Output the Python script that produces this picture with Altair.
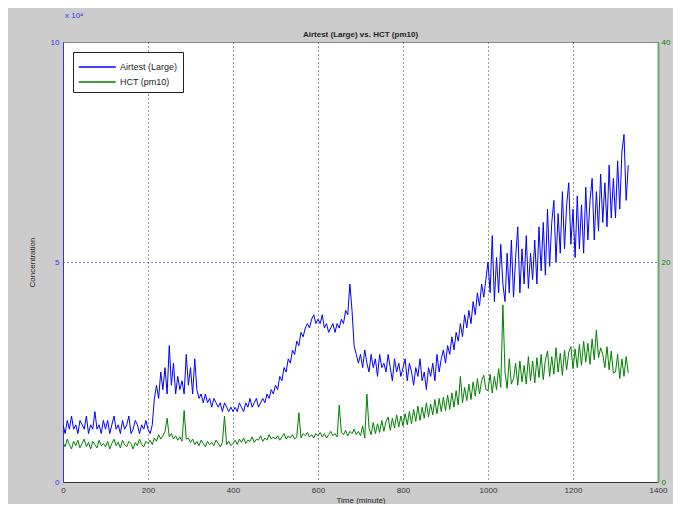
import altair as alt
import pandas as pd

# Sample times (minutes), every 5 minutes
TIME = list(range(0, 1331, 5))

# Airtest (Large) concentration, in units of 10^4
AIRTEST = [
    1.3,1.1,1.4,1.2,1.5,1.2,1.3,1.1,1.4,1.3,1.2,1.5,1.1,1.3,1.2,1.6,1.2,1.3,1.1,1.4,
    1.2,1.4,1.1,1.3,1.5,1.2,1.3,1.1,1.4,1.2,1.3,1.5,1.1,1.2,1.4,1.3,1.1,1.3,1.2,1.4,
    1.2,1.1,1.3,1.9,2.2,1.9,2.5,2.1,2.6,2.0,3.1,2.2,2.7,2.0,2.4,2.1,2.3,2.0,2.9,2.2,
    2.6,2.0,2.8,2.1,1.9,2.0,1.8,2.0,1.8,1.9,1.7,1.9,1.8,1.7,1.8,1.6,1.8,1.7,1.6,1.7,
    1.6,1.7,1.6,1.8,1.7,1.6,1.8,1.7,1.9,1.7,1.8,1.9,1.7,1.8,1.9,1.8,2.0,1.9,2.1,2.0,
    2.2,2.1,2.4,2.3,2.6,2.5,2.8,2.7,3.0,2.9,3.2,3.1,3.4,3.3,3.5,3.6,3.5,3.7,3.8,3.6,
    3.7,3.6,3.8,3.5,3.6,3.4,3.5,3.6,3.4,3.6,3.5,3.7,3.6,3.9,3.8,4.5,3.9,3.1,2.9,2.7,
    2.9,2.6,3.0,2.7,2.5,2.9,2.6,2.8,2.4,2.9,2.6,2.7,2.5,2.9,2.6,2.3,2.8,2.5,2.7,2.4,
    2.6,2.8,2.3,2.7,2.5,2.2,2.6,2.4,2.8,2.3,2.5,2.1,2.6,2.4,2.7,2.3,2.9,2.5,2.8,3.0,
    2.7,3.1,2.9,3.3,3.0,3.4,3.2,3.6,3.3,3.8,3.5,3.9,3.6,4.1,3.8,4.3,4.0,4.5,4.2,4.6,
    5.0,4.3,5.6,4.1,5.1,4.3,5.4,4.5,4.1,5.2,4.3,5.5,4.2,5.1,5.8,4.3,5.3,4.5,5.6,4.4,
    5.2,4.6,5.5,4.5,5.8,4.8,5.9,4.7,6.2,4.9,5.9,6.4,5.0,6.1,5.2,6.6,5.3,6.3,6.8,5.4,
    6.2,5.1,6.5,5.3,6.3,5.2,6.7,5.5,6.4,6.9,5.5,6.6,5.7,7.0,5.9,6.8,5.8,7.2,6.0,6.9,
    6.0,7.3,6.2,7.5,7.9,6.4,7.2,
]

# HCT (pm10), right-axis units
HCT = [
    3.6,3.2,3.9,3.4,3.0,3.7,3.3,3.8,3.1,3.5,3.9,3.2,3.6,3.0,3.7,3.4,3.1,3.8,3.3,3.5,
    3.2,3.7,3.0,3.5,3.9,3.3,3.6,3.1,3.8,3.4,3.2,3.7,3.5,3.0,3.6,3.3,3.9,3.4,3.2,3.7,
    3.5,3.8,3.4,4.0,3.7,4.3,3.9,4.2,4.6,5.8,4.1,4.4,3.9,4.2,3.8,4.1,3.7,6.5,3.9,4.0,
    3.6,3.9,3.4,3.7,3.3,3.8,3.5,3.2,3.7,3.4,3.6,3.3,3.8,3.5,3.2,3.6,6.0,3.4,3.7,3.3,
    3.5,3.8,3.4,3.9,3.6,4.0,3.5,3.8,3.7,4.1,3.6,3.9,3.8,4.2,3.7,4.0,3.8,4.3,3.9,4.1,
    3.9,4.2,3.8,4.1,4.4,3.9,4.2,4.0,4.3,3.9,4.1,6.3,4.0,4.4,4.2,4.5,4.1,4.3,4.0,4.4,
    4.2,4.5,4.1,4.4,4.0,4.3,4.6,4.2,4.4,4.1,7.0,4.5,4.3,4.7,4.2,4.6,4.4,4.8,4.3,4.6,
    4.2,5.1,4.0,8.0,4.9,4.3,5.4,4.4,5.3,4.5,5.6,4.6,5.5,5.9,4.7,5.8,4.9,6.1,5.0,6.0,
    5.1,6.2,5.2,6.4,5.3,6.6,5.5,6.9,5.6,6.8,5.8,7.2,5.9,7.1,6.1,7.5,6.2,7.6,6.4,7.7,
    6.5,7.9,6.6,8.1,6.8,8.3,7.0,9.6,7.2,8.6,7.4,8.9,7.5,9.1,7.8,9.4,8.0,9.2,9.7,8.4,
    8.3,9.8,8.1,9.6,8.4,10.3,8.6,16.1,10.0,8.5,11.2,8.9,9.4,10.8,8.8,11.0,9.1,10.6,8.9,11.4,
    9.2,11.0,9.0,11.3,9.5,11.6,9.3,11.1,11.9,9.6,11.4,9.8,12.2,10.0,11.7,9.7,12.0,10.2,11.8,12.3,
    10.3,12.1,10.4,12.5,10.6,12.8,10.9,12.6,10.7,13.0,11.1,13.8,11.3,12.2,11.6,10.4,12.3,10.2,11.9,9.9,
    10.0,11.6,9.4,11.2,9.6,11.4,9.9,
]

SERIES = ["Airtest (Large)", "HCT (pm10)"]
COLORS = ["#0000ff", "#008000"]
X_TICKS = [0, 200, 400, 600, 800, 1000, 1200, 1400]
LEFT_TICKS = [0, 5, 10]
RIGHT_TICKS = [0, 20, 40]

df_a = pd.DataFrame({"t": TIME[:len(AIRTEST)], "v": AIRTEST[:len(TIME)], "series": SERIES[0]})
df_h = pd.DataFrame({"t": TIME[:len(HCT)], "v": HCT[:len(TIME)], "series": SERIES[1]})

FONT = "Liberation Sans"

legend = alt.Legend(
    title=None, orient="none", legendX=10, legendY=10,
    fillColor="white", strokeColor="#222", padding=5,
    symbolType="M-1,0H3", symbolSize=342,
    labelFont=FONT, labelFontSize=9, labelColor="#222",
    rowPadding=0, labelOffset=22,
)
color_scale = alt.Scale(domain=SERIES, range=COLORS)

x_enc = alt.X(
    "t:Q",
    scale=alt.Scale(domain=[0, 1400], nice=False),
    axis=alt.Axis(
        values=X_TICKS, title="Time (minute)", grid=True, format="d",
        gridColor="#333", gridDash=[1, 3], gridWidth=1,
        domainColor="#333", labelColor="#333", titleColor="#222",
        ticks=False, labelPadding=4, titlePadding=2,
        labelFont=FONT, titleFont=FONT, labelFontSize=8, titleFontSize=8,
        titleFontWeight="normal", labelFlush=False,
    ),
)

blue = alt.Chart(df_a).mark_line(strokeWidth=1, clip=True).encode(
    x=x_enc,
    y=alt.Y(
        "v:Q",
        scale=alt.Scale(domain=[0, 10], nice=False),
        axis=alt.Axis(
            values=LEFT_TICKS, title="Concentration", orient="left",
            grid=True, gridColor="#0000ff", gridDash=[1, 3],
            gridOpacity={"condition": {"test": "datum.value == 5", "value": 1}, "value": 0},
            domainColor="#3030ff", labelColor="#3030ff", titleColor="#222",
            ticks=False, labelPadding=4, titlePadding=14,
            labelFont=FONT, titleFont=FONT, labelFontSize=8, titleFontSize=8,
            titleFontWeight="normal", labelFlush=False,
        ),
    ),
    color=alt.Color("series:N", scale=color_scale, legend=legend),
)

green = alt.Chart(df_h).mark_line(strokeWidth=1, clip=True).encode(
    x=x_enc,
    y=alt.Y(
        "v:Q",
        scale=alt.Scale(domain=[0, 40], nice=False),
        axis=alt.Axis(
            values=RIGHT_TICKS, title=None, orient="right", grid=False,
            domainColor="#6aaa6a", domainWidth=2, labelColor="#008000",
            ticks=False, labelPadding=3,
            labelFont=FONT, labelFontSize=8, labelFlush=False,
        ),
    ),
    color=alt.Color("series:N", scale=color_scale, legend=legend),
)

exponent = alt.Chart(pd.DataFrame({"k": [0]})).mark_text(
    align="left", baseline="bottom", font=FONT, fontSize=8, color="#3030ff"
).encode(x=alt.value(2), y=alt.value(-22), text=alt.value("x 10⁴"))

chart = (
    alt.layer(blue, green, exponent)
    .resolve_scale(y="independent")
    .properties(
        width=595, height=440,
        title=alt.TitleParams(
            "Airtest (Large) vs. HCT (pm10)", font=FONT, fontSize=8,
            fontWeight="bold", color="#222", offset=4, anchor="middle",
            frame="group", dy=31,
        ),
        autosize=alt.AutoSizeParams(type="none"),
        padding={"left": 55, "top": 34, "right": 15, "bottom": 22},
        background="#cccccc",
    )
    .configure_view(fill="white", stroke="#888", strokeWidth=1)
)

chart.save("out.html", embed_options={"renderer": "svg", "actions": False})
